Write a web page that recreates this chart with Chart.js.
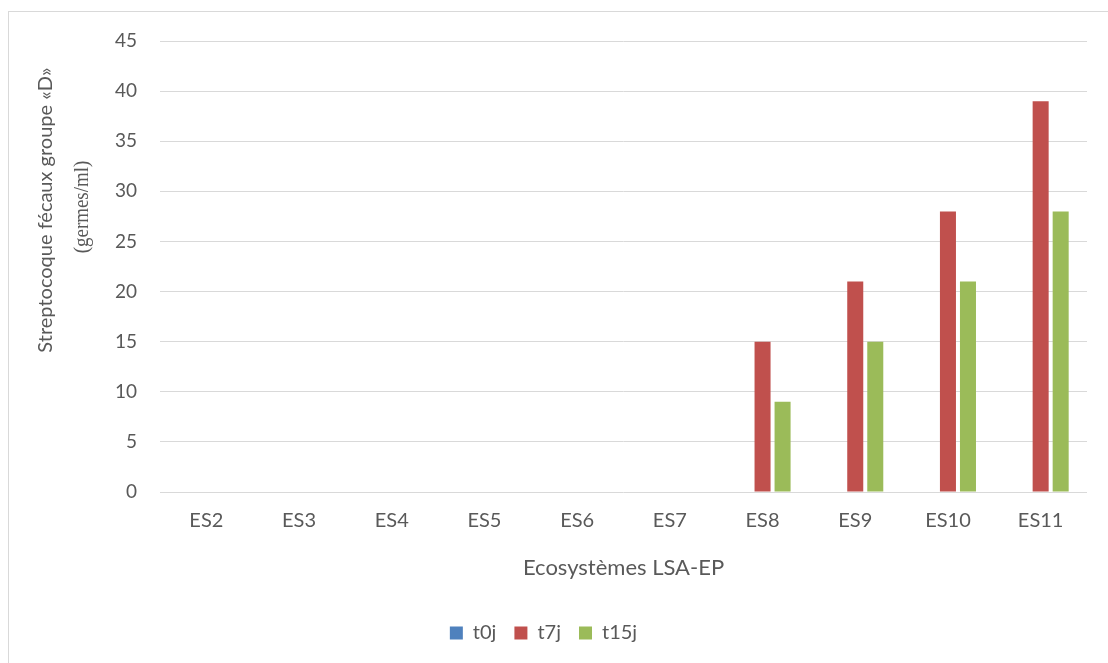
<!DOCTYPE html>
<html>
<head>
<meta charset="utf-8">
<script src="https://cdn.jsdelivr.net/npm/chart.js@4/dist/chart.umd.min.js"></script>
<style>
html,body{margin:0;padding:0;background:#fff;overflow:hidden;}
#wrap{position:absolute;left:0;top:0;width:1108px;height:663px;}
#frame{position:absolute;left:8px;top:11px;width:1300px;height:900px;border:1px solid #d9d9d9;box-sizing:border-box;pointer-events:none;}
</style>
</head>
<body>
<div id="frame"></div>
<div id="wrap"><canvas id="c" width="1108" height="663"></canvas></div>
<script>
const categories = ['ES2','ES3','ES4','ES5','ES6','ES7','ES8','ES9','ES10','ES11'];
const seriesNames = ['t0j','t7j','t15j'];
const t0j  = [0,0,0,0,0,0,0,0,0,0];
const t7j  = [0,0,0,0,0,0,15,21,28,39];
const t15j = [0,0,0,0,0,0,9,15,21,28];
const seriesColors = ['#4F81BD','#C0504D','#9BBB59'];
const yTitleLine1 = 'Streptocoque fécaux groupe «D»';
const yTitleLine2 = '(germes/ml)';
const xTitle = 'Ecosystèmes LSA-EP';

const FONT = 'Lato, "Open Sans", sans-serif';
const TEXT = '#595959';

const yTitlePlugin = {
  id: 'yTitle',
  afterDraw(chart) {
    const ctx = chart.ctx;
    ctx.save();
    ctx.fillStyle = TEXT;
    ctx.textAlign = 'center';
    ctx.textBaseline = 'middle';
    ctx.translate(46, 210);
    ctx.rotate(-Math.PI / 2);
    ctx.font = '20px ' + FONT;
    ctx.fillText(yTitleLine1, 0, 0);
    ctx.restore();
    ctx.save();
    ctx.fillStyle = TEXT;
    ctx.textAlign = 'center';
    ctx.textBaseline = 'middle';
    ctx.translate(82, 207);
    ctx.rotate(-Math.PI / 2);
    ctx.scale(0.86, 1);
    ctx.font = '22px "Liberation Serif", serif';
    ctx.fillText(yTitleLine2, 0, 0);
    ctx.restore();
  }
};

const datasets = [t0j, t7j, t15j].map((d, i) => ({
  label: seriesNames[i],
  data: d,
  backgroundColor: seriesColors[i],
  borderWidth: 0,
  categoryPercentage: 0.648,
  barPercentage: 0.8
}));

new Chart(document.getElementById('c'), {
  type: 'bar',
  data: { labels: categories, datasets },
  plugins: [yTitlePlugin],
  options: {
    responsive: false,
    animation: false,
    devicePixelRatio: 1,
    layout: { padding: { left: 0, right: 21, top: 41, bottom: 10 } },
    plugins: {
      tooltip: { enabled: false },
      legend: {
        position: 'bottom',
        labels: {
          boxWidth: 13, boxHeight: 13,
          color: TEXT,
          font: { family: FONT, size: 20 },
          padding: 18
        }
      }
    },
    scales: {
      x: {
        grid: { display: false, drawTicks: false },
        border: { display: false },
        ticks: { color: TEXT, font: { family: FONT, size: 20 }, padding: 17 },
        title: { display: true, text: xTitle, color: TEXT, font: { family: FONT, size: 22 }, padding: { top: 0, bottom: 24 } },
        afterFit(s) { s.height = 113; }
      },
      y: {
        min: 0, max: 45,
        grid: { color: '#d9d9d9', lineWidth: 1, drawTicks: false },
        border: { display: false },
        ticks: { stepSize: 5, color: TEXT, font: { family: FONT, size: 19 }, padding: 23 },
        afterFit(s) { s.width = 160; }
      }
    }
  }
});
</script>
</body>
</html>
